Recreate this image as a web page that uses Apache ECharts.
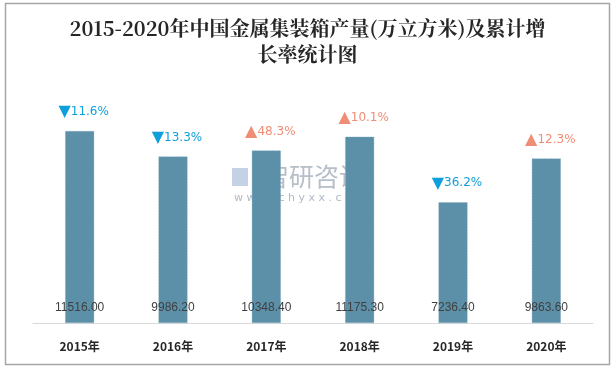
<!DOCTYPE html>
<html><head><meta charset="utf-8">
<script src="https://cdn.jsdelivr.net/npm/echarts@6/dist/echarts.min.js"></script>
<style>html,body{margin:0;padding:0;background:#fff}#c{width:615px;height:369px}</style>
</head><body><div id="c"></div>
<script>
const categories = ['2015年','2016年','2017年','2018年','2019年','2020年'];
const production = [11516.00, 9986.20, 10348.40, 11175.30, 7236.40, 9863.60];
const growth = [-11.6, -13.3, 48.3, 10.1, -36.2, 12.3];
const titleText = '2015-2020年中国金属集装箱产量(万立方米)及累计增\n长率统计图';

const chart = echarts.init(document.getElementById('c'), null, {renderer:'canvas'});
chart.setOption({
  animation:false,
  backgroundColor:'#fff',
  title:{
    text:titleText, left:'center', top:10,
    textStyle:{fontFamily:'"Noto Serif CJK SC","Noto Sans CJK SC",serif',fontSize:20,fontWeight:'bold',color:'#262626',lineHeight:26}
  },
  graphic:[
    {type:'rect',shape:{x:5.5,y:3.5,width:604,height:361},style:{fill:'none',stroke:'#a6a6a6',lineWidth:1.5},silent:true},
    {type:'text',left:264,top:164,z:0,style:{text:'智研咨询',font:'25px "Noto Sans CJK SC"',fill:'rgba(110,125,145,0.5)'}},
    {type:'rect',shape:{x:232,y:168,width:16,height:18},z:0,style:{fill:'rgba(110,140,190,0.4)'}},
    {type:'text',left:234,top:193,z:0,style:{text:'w w w . c h y x x . c o m',font:'11px "DejaVu Sans"',fill:'rgba(110,125,145,0.55)'}}
  ],
  grid:{left:33,right:22,top:89.6,bottom:46},
  xAxis:{
    type:'category',data:categories,
    axisLine:{lineStyle:{color:'#d9d9d9',width:1}},
    axisTick:{show:false},
    axisLabel:{color:'#262626',fontSize:12,fontWeight:'bold',margin:17,fontFamily:'"Noto Sans CJK SC",sans-serif'}
  },
  yAxis:{type:'value',min:0,max:14000,show:false,splitLine:{show:false}},
  series:[
    {
      type:'bar',data:production,barWidth:29,z:5,
      itemStyle:{color:'#5b90a8',borderColor:'#7aa8bf',borderType:'dashed',borderWidth:0.5},
      label:{
        show:true,position:'top',distance:11,offset:[4,0],
        formatter:p=>{const g=growth[p.dataIndex];return g<0?'{dn|▼}{d|'+Math.abs(g).toFixed(1)+'%}':'{up|▲}{u|'+g.toFixed(1)+'%}';},
        rich:{
          dn:{color:'#0fa0dc',fontSize:16,fontFamily:'"DejaVu Sans",sans-serif'},
          d:{color:'#0fa0dc',fontSize:12,fontFamily:'"DejaVu Sans",sans-serif'},
          up:{color:'#f08e75',fontSize:16,fontFamily:'"DejaVu Sans",sans-serif'},
          u:{color:'#f08e75',fontSize:12,fontFamily:'"DejaVu Sans",sans-serif'}
        }
      }
    },
    {
      type:'bar',data:production,barWidth:29,barGap:'-100%',z:6,
      itemStyle:{color:'rgba(0,0,0,0)'},
      label:{show:true,position:'insideBottom',distance:9,color:'#404040',fontSize:12,
        fontFamily:'"Liberation Sans",sans-serif',
        formatter:p=>p.value.toFixed(2)}
    }
  ]
});
</script></body></html>
